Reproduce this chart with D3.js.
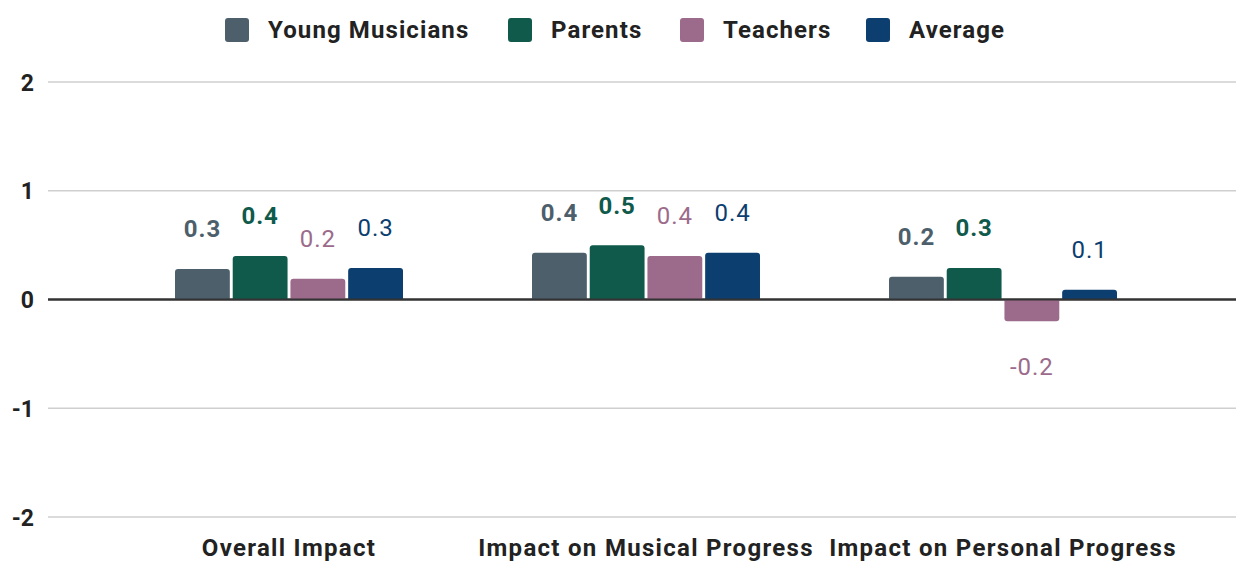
<!DOCTYPE html>
<html><head><meta charset="utf-8">
<script src="https://cdn.jsdelivr.net/npm/d3@7"></script>
<style>body{margin:0;background:#fff}svg{display:block;font-family:Roboto,"Noto Sans",sans-serif}</style>
</head><body><svg id="c" width="1236" height="561"></svg>
<script>
const categories = ["Overall Impact", "Impact on Musical Progress", "Impact on Personal Progress"];
const seriesNames = ["Young Musicians", "Parents", "Teachers", "Average"];
const youngMusicians = [0.28, 0.43, 0.21];
const parents = [0.40, 0.50, 0.29];
const teachers = [0.19, 0.40, -0.20];
const average = [0.29, 0.43, 0.09];
const yTicks = [-2, -1, 0, 1, 2];
const colors = ["#4e5f6c", "#0f5a4b", "#9c6b8b", "#0c3e6f"];
const labelBold = [true, true, false, false];
const seriesValues = [youngMusicians, parents, teachers, average];

const hyph = s => s.replace("\u2212", "-");
const svg = d3.select("#c");
const y = d3.scaleLinear().domain([-2, 2]).range([517, 82]);
const x0 = d3.scaleBand().domain(categories).range([110.5, 1181.5]);
const x1 = d3.scaleBand().domain(seriesNames).range([0, 228]).paddingInner(0.05);
const groupOffset = (x0.bandwidth() - 228) / 2;

// grid
svg.append("g").selectAll("line").data(yTicks).join("line")
  .attr("x1", 48).attr("x2", 1236)
  .attr("y1", d => y(d)).attr("y2", d => y(d))
  .attr("stroke", d => d === 0 ? "#333" : "#cfcfcf")
  .attr("stroke-width", d => d === 0 ? 2 : 1.5);

const yAxis = d3.axisLeft(y).tickValues(yTicks).tickSize(0).tickPadding(0).tickFormat(d => hyph(d3.format("d")(d)));
const ya = svg.append("g").attr("transform", "translate(34,0)").call(yAxis);
ya.select(".domain").remove();
ya.selectAll("text").attr("font-size", 23).attr("font-weight", "bold").attr("fill", "#222")
  .attr("font-family", "Roboto, sans-serif").attr("dy", "0.35em");

// bars
const groups = svg.append("g").selectAll("g").data(categories).join("g")
  .attr("transform", d => `translate(${x0(d) + groupOffset},0)`);

groups.each(function(cat, ci) {
  const g = d3.select(this);
  seriesNames.forEach((s, si) => {
    const v = seriesValues[si][ci];
    const top = y(Math.max(0, v)), bot = y(Math.min(0, v));
    const bx = x1(s), bw = x1.bandwidth();
    const r = 3;
    let path;
    if (v >= 0) {
      path = `M${bx},${bot} V${top + r} Q${bx},${top} ${bx + r},${top} H${bx + bw - r} Q${bx + bw},${top} ${bx + bw},${top + r} V${bot} Z`;
    } else {
      path = `M${bx},${top} V${bot - r} Q${bx},${bot} ${bx + r},${bot} H${bx + bw - r} Q${bx + bw},${bot} ${bx + bw},${bot - r} V${top} Z`;
    }
    g.append("path").attr("d", path).attr("fill", colors[si]);
    g.append("text")
      .attr("x", bx + bw / 2)
      .attr("y", v >= 0 ? y(v) - 40 : y(v) + 45)
      .attr("dy", "0.35em")
      .attr("text-anchor", "middle")
      .attr("font-size", 24)
      .attr("letter-spacing", 1)
      .attr("font-weight", labelBold[si] ? "bold" : "normal")
      .attr("fill", colors[si])
      .text(hyph(d3.format(".1f")(v)));
  });
});
svg.append("line").attr("x1", 48).attr("x2", 1236).attr("y1", y(0)).attr("y2", y(0))
  .attr("stroke", "#333").attr("stroke-width", 2);

// x axis labels
const xAxis = d3.axisBottom(x0).tickSize(0).tickPadding(0);
const xa = svg.append("g").attr("transform", "translate(0,548)").call(xAxis);
xa.select(".domain").remove();
xa.selectAll("text").attr("font-size", 24).attr("font-weight", "bold").attr("fill", "#222")
  .attr("letter-spacing", 1.3)
  .attr("font-family", "Roboto, sans-serif").attr("dy", "0.35em").attr("y", 0);

// legend
const legendX = [225, 508, 680, 866];
const lg = svg.append("g").selectAll("g").data(seriesNames).join("g")
  .attr("transform", (d, i) => `translate(${legendX[i]},18)`);
lg.append("rect").attr("width", 24).attr("height", 24).attr("rx", 3).attr("fill", (d, i) => colors[i]);
lg.append("text").attr("x", 43).attr("y", 12).attr("dy", "0.35em")
  .attr("font-size", 24).attr("letter-spacing", 1.1).attr("font-weight", "bold").attr("fill", "#222").text(d => d);
</script></body></html>
